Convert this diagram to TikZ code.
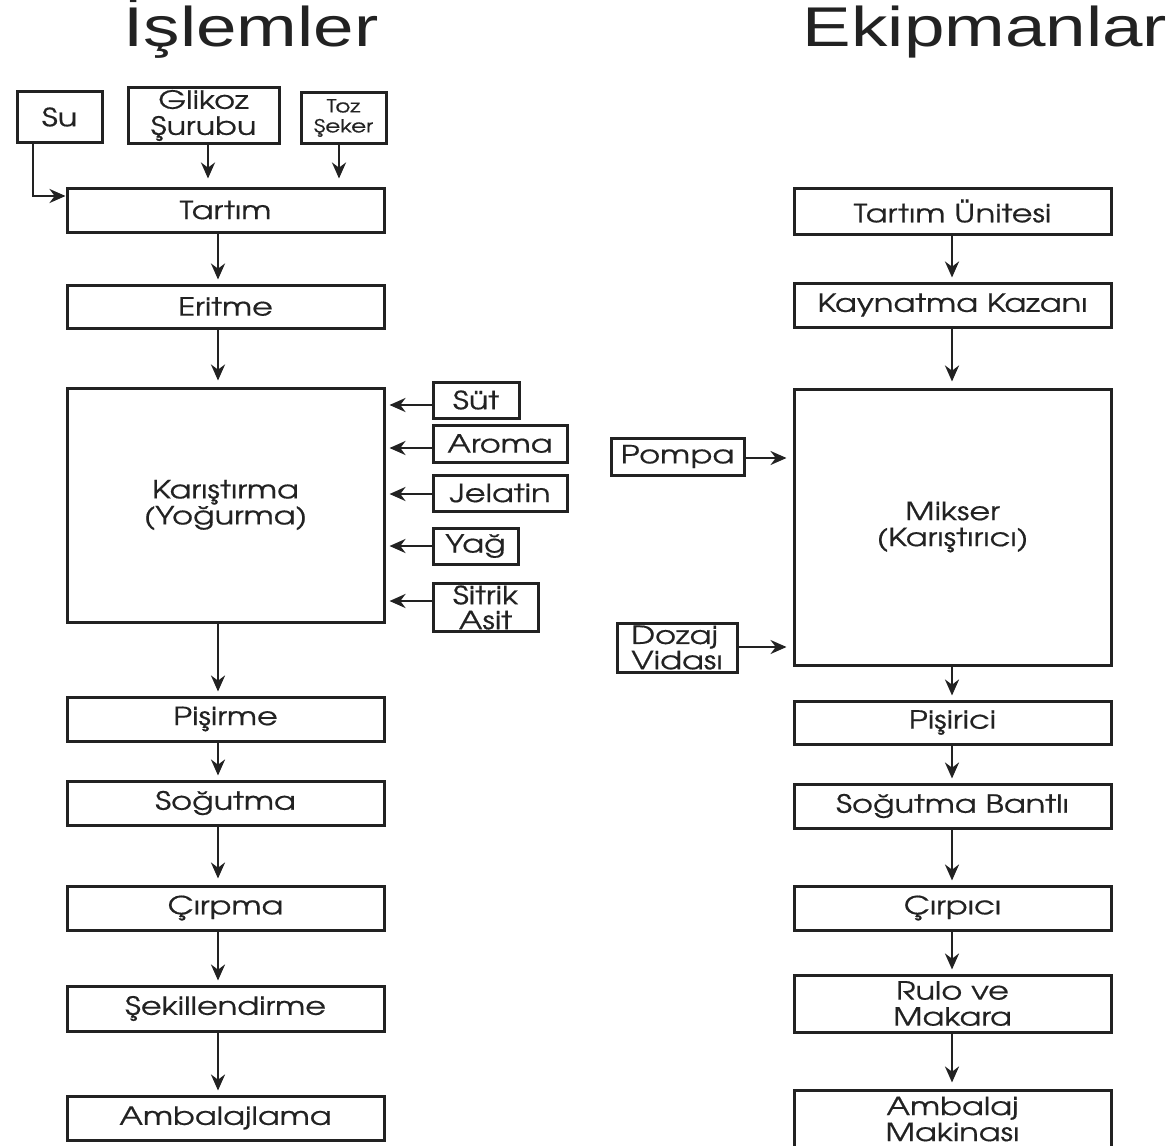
\documentclass[tikz,border=0pt]{standalone}
\usepackage{fontspec}
\setmainfont{texgyreadventor-regular.otf}[FakeStretch=1.28,FakeBold=0.6]
\newfontfamily\titlefont{Liberation Sans}[FakeStretch=1.3]
\usetikzlibrary{arrows.meta}
\definecolor{ink}{HTML}{222222}
\tikzset{
  box/.style={draw=ink, line width=1.5pt, inner sep=0pt, align=center, text=ink, font=\fontsize{12.5}{13}\selectfont},
  mainbox/.style={box, minimum width=158.5pt},
  arr/.style={draw=ink, line width=1.4pt, -{Stealth[length=8pt,width=7pt]}},
  title/.style={font=\titlefont\fontsize{28}{30}\selectfont, text=ink}
}
\begin{document}
\begin{tikzpicture}[x=0.5pt,y=-0.5pt]
\useasboundingbox (0,0) rectangle (1176,1145);
\clip (0,0) rectangle (1176,1145);
% titles
\node[title, anchor=base] (t1) at (251,47) {İşlemler};
\node[title, anchor=base] (t2) at (985,47) {Ekipmanlar};
% left column
\node[box, minimum width=42.5pt, minimum height=25pt] (su) at (59.5,117) {Su};
\node[box, minimum width=75.5pt, minimum height=27.5pt] (glikoz) at (203.5,115.5) {Glikoz\\Şurubu};
\node[box, minimum width=42.5pt, minimum height=25pt, font=\fontsize{9}{10}\selectfont] (toz) at (343.5,118) {Toz\\Şeker};
\node[mainbox, minimum height=22pt] (tartim) at (225.5,210) {Tartım};
\node[mainbox, minimum height=21.5pt] (eritme) at (225.5,306.5) {Eritme};
\node[mainbox, minimum height=117pt] (karis) at (225.5,505) {Karıştırma\\(Yoğurma)};
\node[mainbox, minimum height=22pt] (pisirme) at (225.5,719) {Pişirme};
\node[mainbox, minimum height=22pt] (sogutma) at (225.5,803) {Soğutma};
\node[mainbox, minimum height=22pt] (cirpma) at (225.5,908) {Çırpma};
\node[mainbox, minimum height=22.5pt] (sekil) at (225.5,1008.5) {Şekillendirme};
\node[mainbox, minimum height=22pt] (amb) at (225.5,1118) {Ambalajlama};
% additives
\node[box, minimum width=43pt, minimum height=18pt] (sut) at (476,400) {Süt};
\node[box, minimum width=67pt, minimum height=18.5pt] (aroma) at (500,443.5) {Aroma};
\node[box, minimum width=67pt, minimum height=18pt] (jelatin) at (500,493) {Jelatin};
\node[box, minimum width=42.5pt, minimum height=18pt] (yag) at (475.5,546) {Yağ};
\node[box, minimum width=52.5pt, minimum height=24pt, font=\fontsize{12.5}{11.5}\selectfont] (sitrik) at (485.5,607.5) {\raisebox{1pt}{Sitrik}\\Asit};
% right column
\node[mainbox, minimum height=23pt] (tu) at (952.5,211) {Tartım Ünitesi};
\node[mainbox, minimum height=22pt] (kk) at (952.5,305) {Kaynatma Kazanı};
\node[mainbox, minimum height=138pt] (mikser) at (952.5,527) {Mikser\\(Karıştırıcı)};
\node[mainbox, minimum height=21.5pt] (pisirici) at (952.5,722.5) {Pişirici};
\node[mainbox, minimum height=22pt] (sb) at (952.5,806) {Soğutma Bantlı};
\node[mainbox, minimum height=22pt] (cirpici) at (952.5,908) {Çırpıcı};
\node[mainbox, minimum height=28.5pt] (rulo) at (952.5,1003.5) {Rulo ve\\Makara};
\node[mainbox, minimum height=29pt] (ambm) at (952.5,1119) {Ambalaj\\Makinası};
\node[box, minimum width=66.5pt, minimum height=18.5pt] (pompa) at (677.5,456.5) {Pompa};
\node[box, minimum width=60pt, minimum height=24.5pt, align=left, font=\fontsize{12.5}{11.5}\selectfont] (dozaj) at (677,647.5) {Dozaj\\Vidası};
% coordinates
\coordinate (lx) at (218,0);
\coordinate (rx) at (952,0);
\coordinate (subend) at (33,195);
% left arrows
\draw[arr] (su.south -| subend) |- ([yshift=-0.5pt]tartim.west |- subend);
\draw[arr, shorten >=4pt] (glikoz.south -| 208,0) -- (tartim.north -| 208,0);
\draw[arr, shorten >=4pt] (toz.south -| 339,0) -- (tartim.north -| 339,0);
\draw[arr, shorten >=2pt] (tartim.south -| lx) -- (eritme.north -| lx);
\draw[arr, shorten >=3pt] (eritme.south -| lx) -- (karis.north -| lx);
\draw[arr, shorten >=2pt] (karis.south -| lx) -- (pisirme.north -| lx);
\draw[arr, shorten >=2pt] (pisirme.south -| lx) -- (sogutma.north -| lx);
\draw[arr, shorten >=3pt] (sogutma.south -| lx) -- (cirpma.north -| lx);
\draw[arr, shorten >=2pt] (cirpma.south -| lx) -- (sekil.north -| lx);
\draw[arr, shorten >=2pt] (sekil.south -| lx) -- (amb.north -| lx);
\draw[arr, shorten >=2pt] (sut.west |- 0,405) -- (karis.east |- 0,405);
\draw[arr, shorten >=2pt] (aroma.west |- 0,448) -- (karis.east |- 0,448);
\draw[arr, shorten >=2pt] (jelatin.west |- 0,494) -- (karis.east |- 0,494);
\draw[arr, shorten >=2pt] (yag.west |- 0,546) -- (karis.east |- 0,546);
\draw[arr, shorten >=2pt] (sitrik.west |- 0,601) -- (karis.east |- 0,601);
% right arrows
\draw[arr, shorten >=2pt] (tu.south -| rx) -- (kk.north -| rx);
\draw[arr, shorten >=3pt] (kk.south -| rx) -- (mikser.north -| rx);
\draw[arr, shorten >=2pt] (mikser.south -| rx) -- (pisirici.north -| rx);
\draw[arr, shorten >=2pt] (pisirici.south -| rx) -- (sb.north -| rx);
\draw[arr, shorten >=2pt] (sb.south -| rx) -- (cirpici.north -| rx);
\draw[arr, shorten >=2pt] (cirpici.south -| rx) -- (rulo.north -| rx);
\draw[arr, shorten >=3pt] (rulo.south -| rx) -- (ambm.north -| rx);
\draw[arr, line width=1.1pt, shorten >=3pt] (pompa.east |- 0,458) -- (mikser.west |- 0,458);
\draw[arr, line width=1.1pt, shorten >=3pt] (dozaj.east |- 0,647) -- (mikser.west |- 0,647);
\end{tikzpicture}
\end{document}
